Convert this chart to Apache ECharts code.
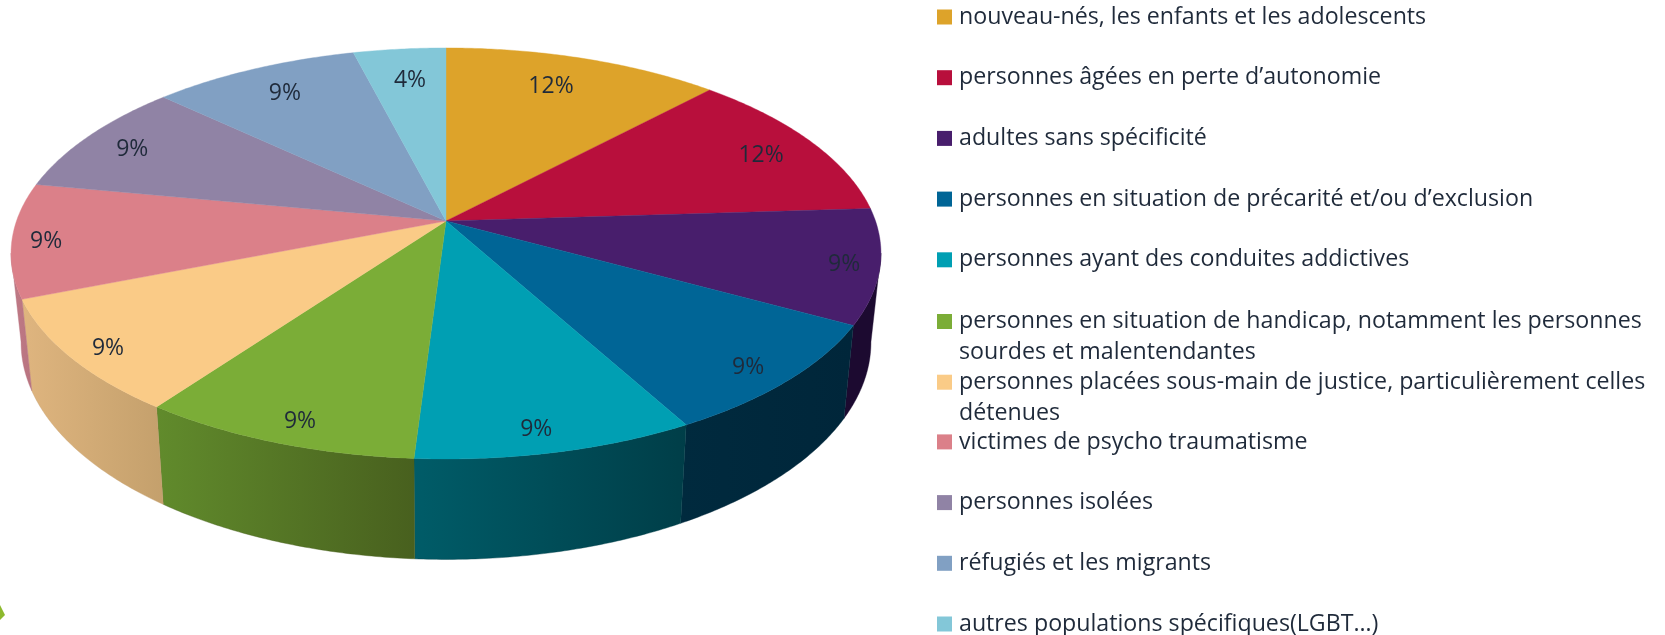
<!DOCTYPE html>
<html><head><meta charset="utf-8">
<style>html,body{margin:0;padding:0;background:#fff}#c{width:1665px;height:635px}</style>
<script src="https://cdn.jsdelivr.net/npm/echarts@6/dist/echarts.min.js"></script>
</head><body><div id="c"></div>
<script>
// ---- data ----
const categories = [
  "nouveau-nés, les enfants et les adolescents",
  "personnes âgées en perte d’autonomie",
  "adultes sans spécificité",
  "personnes en situation de précarité et/ou d’exclusion",
  "personnes ayant des conduites addictives",
  "personnes en situation de handicap, notamment les personnes\nsourdes et malentendantes",
  "personnes placées sous-main de justice, particulièrement celles\ndétenues",
  "victimes de psycho traumatisme",
  "personnes isolées",
  "réfugiés et les migrants",
  "autres populations spécifiques(LGBT…)"
];
const values = [12, 12, 9, 9, 9, 9, 9, 9, 9, 9, 4];
const percentLabels = ["12%","12%","9%","9%","9%","9%","9%","9%","9%","9%","4%"];

// ---- style ----
const topColors = ["#DDA32A","#B80F3C","#481E6C","#006596","#009FB3","#7BAD37","#FACB87","#DB8089","#9083A5","#81A0C3","#83C7D8"];
const wallFrom = ["#9a7a20","#801030","#1c0a30","#002a3e","#005c68","#618b2c","#dfb57f","#c07a86","#6a6080","#5a7090","#5a8a98"];
const wallTo   = ["#9a7a20","#801030","#1c0a30","#00263a","#003e48","#48601e","#c4a06c","#b87480","#6a6080","#5a7090","#5a8a98"];
const labelRadius = [0.813,0.854,0.92,0.903,0.906,0.907,0.914,0.922,0.869,0.83,0.81];
const labelTurn   = [-1.9,0.4,0.1,0.6,1.1,-0.9,-0.6,-0.4,-0.2,0.4,0.5];
const textColor = "#1f2a3a";
const legendFont = "Open Sans";

// projection of the tilted disc (top face and bottom rim)
const topDisc = {cx:446, cy:221, R:429.5, S:200.4, k:0.158};
const botDisc = {cx:446, cy:308, R:419.6, S:211.7, k:0.158};
const FRONT_FROM = 99, FRONT_TO = 261;  // visible part of the rim, degrees clockwise from top
const rowFirst = 16, rowStep = 60.7, legendLeft = 937, lineH = 31;
const rowShift = 5, rowShiftTwoLines = 6;

const total = values.reduce((a,b)=>a+b,0);
let acc = 0;
const spans = values.map(v => { const s = acc/total*360; acc += v; return [s, acc/total*360]; });

function proj(d, deg, r){
  const t = deg*Math.PI/180, u = r*Math.sin(t), v = -r*Math.cos(t), w = 1-d.k*v;
  return [d.cx+d.R*u/w, d.cy+d.S*v/w];
}
function arc(d, a, b){
  const pts=[], n=Math.max(2,Math.ceil(Math.abs(b-a)/0.5));
  for(let i=0;i<=n;i++) pts.push(proj(d,a+(b-a)*i/n,1));
  return pts;
}
function renderSlice(i){
  const [a,b]=spans[i], children=[];
  const fa=Math.max(a,FRONT_FROM), fb=Math.min(b,FRONT_TO);
  if(fb>fa){
    children.push({type:'polygon',z2:1,
      shape:{points:arc(topDisc,fa,fb).concat(arc(botDisc,fa,fb).reverse())},
      style:{fill:new echarts.graphic.LinearGradient(0,0,1,0,[{offset:0,color:wallFrom[i]},{offset:1,color:wallTo[i]}]),stroke:wallTo[i],lineWidth:0.4}});
  }
  children.push({type:'polygon',z2:10,
    shape:{points:[[topDisc.cx,topDisc.cy]].concat(arc(topDisc,a,b))},
    style:{fill:topColors[i],stroke:topColors[i],lineWidth:0.4}});
  const p=proj(topDisc,(a+b)/2+labelTurn[i],labelRadius[i]);
  children.push({type:'text',z2:20,
    style:{x:p[0],y:p[1]+2,text:percentLabels[i],fill:textColor,font:'23px "Open Sans"',align:'center',verticalAlign:'middle'}});
  return {type:'group',children};
}

const series = categories.map((name,i)=>({
  type:'custom', name, coordinateSystem:'none', silent:true, animation:false,
  itemStyle:{color:topColors[i]},
  data:[{name,value:values[i]}],
  renderItem:()=>renderSlice(i)
}));
// A blank first line keeps the square level with the first line of a two-line entry.
const legendText = name => {
  const lines = name.split("\n");
  return (lines.length>1 ? ["{a| }"] : []).concat(lines.map(l=>"{s| }{a|"+l+"}")).join("\n");
};
const legend = categories.map((name,i)=>{
  const two = name.indexOf("\n")>=0;
  return {
    data:[name], orient:'vertical', left:legendLeft,
    top:rowFirst+rowStep*i-(two?1.5:0.5)*lineH+(two?rowShiftTwoLines:rowShift),
    padding:0, itemWidth:15, itemHeight:15, icon:'rect', selectedMode:false,
    formatter:legendText,
    textStyle:{rich:{
      s:{width:2,fontSize:1},
      a:{fontFamily:legendFont,fontSize:23.2,color:textColor,lineHeight:lineH}
    }}
  };
});
const chart = echarts.init(document.getElementById('c'),null,{renderer:'canvas'});
chart.setOption({
  animation:false, backgroundColor:'#fff', legend, series,
  graphic:[{type:'polygon',shape:{points:[[0,605],[5,615],[0,620]]},style:{fill:'#8DB92E'}}]
});
</script></body></html>
